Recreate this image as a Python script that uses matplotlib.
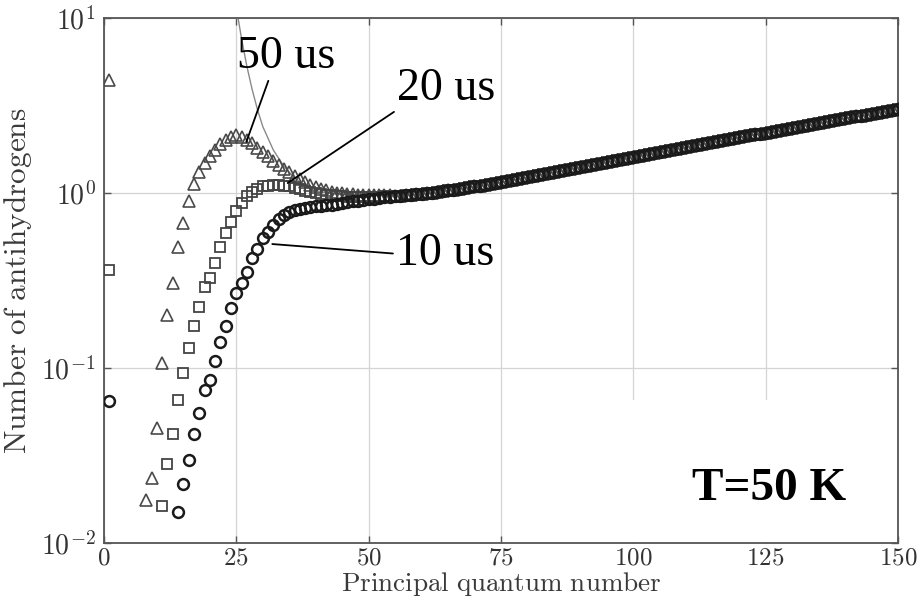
import matplotlib
matplotlib.use("Agg")
import matplotlib.pyplot as plt
from matplotlib.patches import Rectangle
from matplotlib.ticker import NullLocator, FuncFormatter
import numpy as np

plt.rcParams["mathtext.fontset"] = "cm"
plt.rcParams["axes.unicode_minus"] = False

# principal quantum number where each series starts (n=1 point + contiguous run)
n_10us = [1] + list(range(14, 56))
n_20us = [1] + list(range(11, 56))
n_50us = [1] + list(range(8, 56))

head_10us = [0.065,
             0.015, 0.0217, 0.030, 0.042, 0.055, 0.075, 0.085, 0.110, 0.141, 0.174,
             0.22, 0.268, 0.306, 0.354, 0.425, 0.48, 0.55, 0.60, 0.66, 0.71,
             0.75, 0.78, 0.80, 0.815, 0.825, 0.835, 0.84, 0.845, 0.85, 0.855,
             0.865, 0.875, 0.885, 0.895, 0.905, 0.912, 0.92, 0.928, 0.936, 0.944,
             0.952, 0.959]
head_20us = [0.363,
             0.0163, 0.0283, 0.042, 0.0656, 0.094, 0.13, 0.174, 0.224, 0.29, 0.327,
             0.40, 0.49, 0.59, 0.68, 0.79, 0.88, 0.96, 1.02, 1.06, 1.09,
             1.10, 1.11, 1.11, 1.10, 1.09, 1.07, 1.05, 1.03, 1.01, 1.00,
             0.99, 0.98, 0.97, 0.965, 0.96, 0.955, 0.953, 0.951, 0.950, 0.950,
             0.951, 0.953, 0.956, 0.960, 0.963]
head_50us = [4.42,
             0.0176, 0.0235, 0.0454, 0.107, 0.20, 0.306, 0.49, 0.67, 0.90, 1.13,
             1.32, 1.48, 1.63, 1.76, 1.90, 2.00, 2.09, 2.14, 2.10, 2.02,
             1.92, 1.82, 1.71, 1.62, 1.52, 1.44, 1.37, 1.31, 1.25, 1.20,
             1.15, 1.11, 1.08, 1.055, 1.035, 1.02, 1.005, 0.995, 0.988, 0.982,
             0.978, 0.975, 0.973, 0.971, 0.970, 0.969, 0.968, 0.967]

# n = 56..150, all three times coincide here
n_tail = list(range(56, 151))
tail_vals = [0.966, 0.972, 0.979, 0.985, 0.991, 0.998, 1.005, 1.015, 1.026, 1.036,
             1.047, 1.058, 1.069, 1.080, 1.091, 1.103, 1.114, 1.126, 1.138, 1.149,
             1.165, 1.181, 1.197, 1.214, 1.230, 1.247, 1.264, 1.281, 1.299, 1.317,
             1.335, 1.353, 1.372, 1.390, 1.409, 1.429, 1.448, 1.468, 1.488, 1.508,
             1.529, 1.550, 1.571, 1.593, 1.614, 1.635, 1.656, 1.677, 1.698, 1.720,
             1.742, 1.764, 1.786, 1.809, 1.832, 1.855, 1.879, 1.903, 1.928, 1.952,
             1.977, 2.002, 2.028, 2.053, 2.080, 2.106, 2.133, 2.160, 2.188, 2.216,
             2.243, 2.271, 2.300, 2.329, 2.358, 2.388, 2.417, 2.448, 2.478, 2.510,
             2.541, 2.573, 2.605, 2.638, 2.671, 2.704, 2.738, 2.772, 2.807, 2.842,
             2.877, 2.913, 2.949, 2.986, 3.023]

# thin reference curve
n_curve = [25, 26, 27, 28, 29, 30, 32, 34, 36, 38, 40, 43, 46, 50, 55]
curve_vals = [11.5, 7.6, 5.3, 3.9, 3.0, 2.4, 1.76, 1.42, 1.22, 1.10, 1.03, 0.99,
              0.975, 0.97, 0.965]

fig = plt.figure(figsize=(9.2, 6.01), dpi=100)
ax = fig.add_axes([0.113, 0.0965, 0.863, 0.8735])

ax.set_yscale("log")
ax.set_xlim(0, 150)
ax.set_ylim(1e-2, 1e1)
ax.set_xticks([0, 25, 50, 75, 100, 125, 150])
ax.yaxis.set_minor_locator(NullLocator())
ax.xaxis.set_major_formatter(FuncFormatter(lambda v, p: r"$\mathrm{%d}$" % v))
ax.yaxis.set_major_formatter(
    FuncFormatter(lambda v, p: r"$\mathrm{10^{%d}}$" % int(round(np.log10(v)))))
ax.grid(True, color="#d4d4d4", lw=0.9)
ax.set_axisbelow(True)

# white patch over the lower right (label area)
ax.add_patch(Rectangle((0.58, 0.0), 0.414, 0.272, transform=ax.transAxes,
                       facecolor="white", edgecolor="none", zorder=1))

ax.plot(n_curve + n_tail, curve_vals + tail_vals, color="#8a8a8a", lw=1.0, zorder=2)

ax.plot(n_50us + n_tail, head_50us + tail_vals, ls="none", marker="^", ms=9,
        mfc="none", mec="#4a4a4a", mew=1.2, zorder=3)
ax.plot(n_20us + n_tail, head_20us + tail_vals, ls="none", marker="s", ms=7.8,
        mfc="none", mec="#444444", mew=1.3, zorder=4)
ax.plot(n_10us + n_tail, head_10us + tail_vals, ls="none", marker="o", ms=7.8,
        mfc="none", mec="#1a1a1a", mew=1.8, zorder=5)

lab = dict(fontsize=33, family="Liberation Serif", color="black")
line = dict(arrowstyle="-", color="black", lw=1.3, shrinkA=0, shrinkB=0)
ax.annotate("50 us", xy=(26.9, 1.96), xytext=(34.4, 5.18), ha="center",
            va="baseline", arrowprops=dict(line, relpos=(0.33, 0.0)), zorder=6, **lab)
ax.annotate("20 us", xy=(34.7, 1.14), xytext=(64.6, 3.40), ha="center",
            va="baseline", arrowprops=dict(line, relpos=(0.0, 0.0)), zorder=6, **lab)
ax.annotate("10 us", xy=(31.8, 0.511), xytext=(64.4, 0.388), ha="center",
            va="baseline", arrowprops=dict(line, relpos=(0.0, 0.5)), zorder=6, **lab)

ax.text(0.8375, 0.082, "T=50 K", transform=ax.transAxes, ha="center", va="baseline",
        fontsize=34, fontweight="bold", family="Liberation Serif", zorder=6)

ax.set_xlabel(r"$\mathrm{Principal\ quantum\ number}$", fontsize=19.5,
              color="#3a3a3a", labelpad=0)
ax.set_ylabel(r"$\mathrm{Number\ of\ antihydrogens}$", fontsize=22.5,
              color="#3a3a3a", labelpad=5)

ax.tick_params(which="both", direction="in", top=True, right=True, length=5,
               width=1.0, color="#555555", labelcolor="#333333")
ax.tick_params(axis="x", labelsize=18, pad=2)
ax.tick_params(axis="y", labelsize=20, pad=6)
for s in ax.spines.values():
    s.set_color("#555555")
    s.set_linewidth(1.3)

fig.savefig("out.png", dpi=100)
